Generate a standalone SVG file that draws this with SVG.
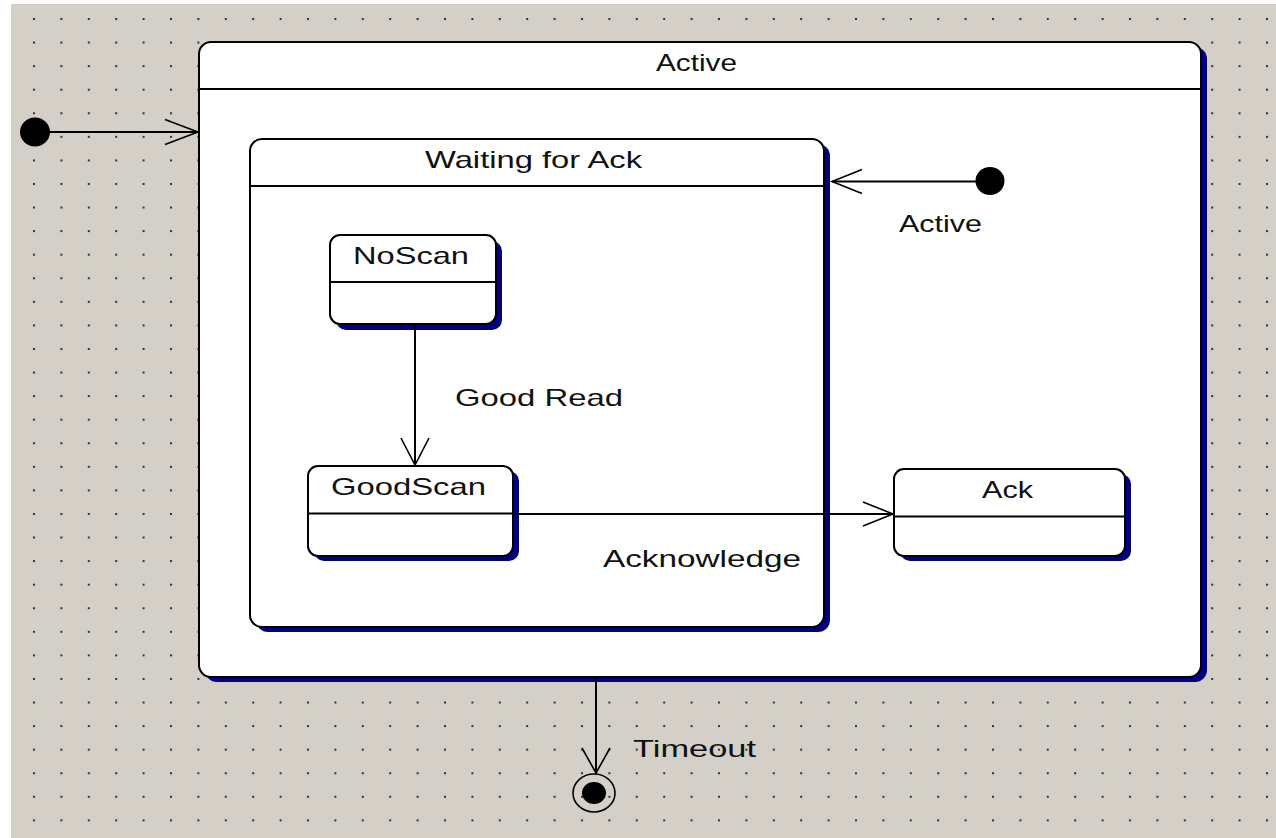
<svg xmlns="http://www.w3.org/2000/svg" width="1276" height="838" viewBox="0 0 1276 838">
  <defs>
    <pattern id="grid" patternUnits="userSpaceOnUse" x="33" y="18" width="27.4" height="23.57">
      <rect x="0" y="0" width="2" height="2" fill="#333"/>
    </pattern>
    <style>
      .box { fill: #fff; stroke: #000; stroke-width: 2; }
      .shadow { fill: #000080; }
      .div { stroke: #000; stroke-width: 2; }
      .edge { stroke: #000; stroke-width: 2; fill: none; }
      .head { stroke: #000; stroke-width: 1.6; fill: none; }
      text { font-family: "Liberation Sans", Arial, sans-serif; font-size: 24px; fill: #111; }
    </style>
  </defs>
  <rect x="0" y="0" width="1276" height="838" fill="#ffffff"/>
  <rect x="11" y="4" width="1265" height="834" fill="#d4d0c8"/>
  <rect x="11" y="4" width="1265" height="834" fill="url(#grid)"/>

  <g id="node-active">
    <rect class="shadow" x="205" y="47" width="1002" height="635" rx="12"/>
    <rect class="box" x="199" y="42" width="1002" height="635" rx="12"/>
    <line class="div" x1="199" y1="89" x2="1201" y2="89"/>
    <text x="656" y="71" textLength="81" lengthAdjust="spacingAndGlyphs">Active</text>
  </g>

  <g id="node-waiting">
    <rect class="shadow" x="256" y="144" width="574" height="488" rx="12"/>
    <rect class="box" x="250" y="139" width="574" height="488" rx="12"/>
    <line class="div" x1="250" y1="186" x2="824" y2="186"/>
    <text x="425" y="168" textLength="217" lengthAdjust="spacingAndGlyphs">Waiting for Ack</text>
  </g>

  <g id="node-noscan">
    <rect class="shadow" x="336" y="241" width="166" height="89" rx="10"/>
    <rect class="box" x="330" y="235" width="166" height="89" rx="10"/>
    <line class="div" x1="330" y1="282" x2="496" y2="282"/>
    <text x="353" y="264" textLength="116" lengthAdjust="spacingAndGlyphs">NoScan</text>
  </g>

  <g id="node-goodscan">
    <rect class="shadow" x="314" y="471" width="205" height="90" rx="10"/>
    <rect class="box" x="308" y="466" width="205" height="90" rx="10"/>
    <line class="div" x1="308" y1="513.5" x2="513" y2="513.5"/>
    <text x="331" y="495" textLength="155" lengthAdjust="spacingAndGlyphs">GoodScan</text>
  </g>

  <g id="node-ack">
    <rect class="shadow" x="900" y="474" width="231" height="87" rx="10"/>
    <rect class="box" x="894" y="469" width="231" height="87" rx="10"/>
    <line class="div" x1="894" y1="516.5" x2="1125" y2="516.5"/>
    <text x="982" y="498" textLength="51" lengthAdjust="spacingAndGlyphs">Ack</text>
  </g>

  <g id="node-initial">
    <ellipse cx="35" cy="132" rx="15" ry="14.5" fill="#000"/>
  </g>

  <g id="node-initial-inner">
    <ellipse cx="990" cy="181" rx="14.5" ry="14" fill="#000"/>
  </g>

  <g id="node-final">
    <ellipse cx="594" cy="793" rx="21" ry="19" fill="none" stroke="#000" stroke-width="1.6"/>
    <ellipse cx="594" cy="793" rx="12" ry="11" fill="#000"/>
  </g>

  <g id="connectors">
    <line class="edge" x1="50" y1="132" x2="198" y2="132"/>
    <polyline class="head" points="165,119.5 198,132 165,144.5"/>

    <line class="edge" x1="976" y1="181.5" x2="832" y2="181.5"/>
    <polyline class="head" points="862,169.5 832,181.5 862,193.5"/>

    <line class="edge" x1="415" y1="324" x2="415" y2="465"/>
    <polyline class="head" points="401,438 415,465 429,438"/>

    <line class="edge" x1="513" y1="514" x2="893" y2="514"/>
    <polyline class="head" points="863,502 893,514 863,526"/>

    <line class="edge" x1="596" y1="678" x2="596" y2="773"/>
    <polyline class="head" points="582,748 596,773 610,748"/>

    <text x="899" y="232" textLength="83" lengthAdjust="spacingAndGlyphs">Active</text>
    <text x="455" y="406" textLength="168" lengthAdjust="spacingAndGlyphs">Good Read</text>
    <text x="603" y="567" textLength="198" lengthAdjust="spacingAndGlyphs">Acknowledge</text>
    <text x="633" y="757" textLength="123" lengthAdjust="spacingAndGlyphs">Timeout</text>
  </g>
</svg>
